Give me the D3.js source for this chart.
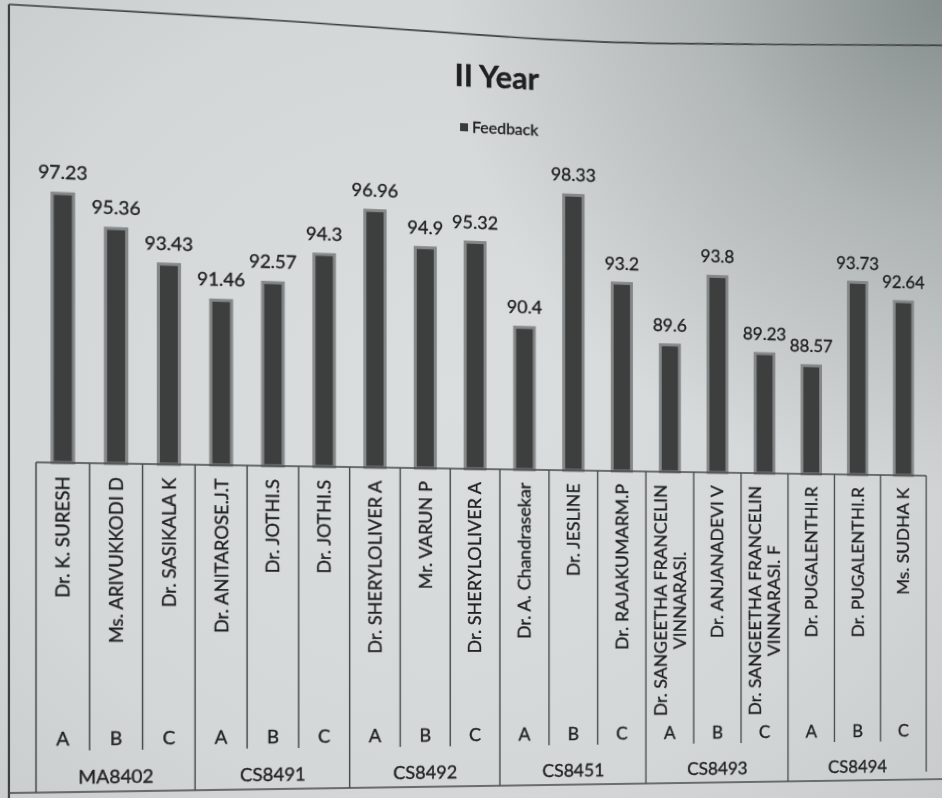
<!DOCTYPE html>
<html>
<head>
<meta charset="utf-8">
<script src="https://cdn.jsdelivr.net/npm/d3@7"></script>
<style>
  html, body { margin: 0; padding: 0; }
  body {
    width: 942px; height: 798px; overflow: hidden;
    background:
      radial-gradient(circle at 100% 0%, rgba(112,122,120,0.75) 0%, rgba(112,122,120,0.35) 18%, rgba(112,122,120,0) 40%),
      radial-gradient(ellipse 85% 90% at 47% 50%, #dbdede 0%, #d4d7d7 55%, #c7cbcb 85%, #b9bebd 100%);
  }
  #chart svg {
    display: block;
    /* the reference is a photo taken at a slight angle */
    transform-origin: 480px 628px;
    transform: perspective(1000px) rotateY(5.4deg);
  }
  text {
    font-family: Lato, "Open Sans", sans-serif;
    fill: #1f2121;
    stroke: #1f2121;
    stroke-width: 0.35px;
  }
</style>
</head>
<body>
<div id="chart"></div>
<script>
(function(){
  var width = 1000,
      height = 798;

  // data
  var courses = ["MA8402", "CS8491", "CS8492", "CS8451", "CS8493", "CS8494"];
  var sections = ["A", "B", "C"];
  var faculty = [
    "Dr. K. SURESH", "Ms. ARIVUKKODI D", "Dr. SASIKALA K",
    "Dr. ANITAROSE.J.T", "Dr. JOTHI.S", "Dr. JOTHI.S",
    "Dr. SHERYLOLIVER A", "Mr. VARUN P", "Dr. SHERYLOLIVER A",
    "Dr. A. Chandrasekar", "Dr. JESLINE", "Dr. RAJAKUMARM.P",
    "Dr. SANGEETHA FRANCELIN|VINNARASI.", "Dr. ANJANADEVI V", "Dr. SANGEETHA FRANCELIN|VINNARASI. F",
    "Dr. PUGALENTHI.R", "Dr. PUGALENTHI.R", "Ms. SUDHA K"
  ];
  var feedback = [
    97.23, 95.36, 93.43,
    91.46, 92.57, 94.3,
    96.96, 94.9, 95.32,
    90.4, 98.33, 93.2,
    89.6, 93.8, 89.23,
    88.57, 93.73, 92.64
  ];

  var rows = feedback.map(function(v, i) {
    return {
      i: i,
      value: v,
      name: faculty[i].split("|"),
      section: sections[i % 3],
      course: courses[Math.floor(i / 3)]
    };
  });

  var svg = d3.select("#chart")
    .append("svg")
    .attr("width", width)
    .attr("height", height);

  var tableLeft = 52, tableRight = 948,
      baseY = 469, nameBottom = 746, tableBottom = 786;

  // x for the bars, column scale for the table cells
  var x = d3.scaleBand()
    .domain(d3.range(rows.length))
    .range([tableLeft, tableRight])
    .paddingInner(0.6)
    .paddingOuter(0.3);

  var col = d3.scaleBand()
    .domain(d3.range(rows.length))
    .range([tableLeft, tableRight]);

  var y = d3.scaleLinear()
    .domain([82, 100])
    .range([baseY, 163]);

  // chart area border (paper edge of the printout)
  var frame = svg.append("g").attr("fill", "none").attr("stroke", "#3c3f3f");
  frame.append("path")
    .attr("stroke-width", 1.6)
    .attr("d", d3.line().curve(d3.curveBasis)([[27, 31], [300, 31], [540, 37], [660, 34], [800, 27], [1000, 17]]));
  frame.append("line")
    .attr("stroke-width", 2)
    .attr("x1", 27).attr("x2", 27)
    .attr("y1", 31).attr("y2", 820);

  // title + legend
  svg.append("text")
    .attr("x", 497)
    .attr("y", 87)
    .attr("text-anchor", "middle")
    .style("font-size", "31px")
    .style("font-weight", "bold")
    .text("II Year");

  var legend = svg.append("g").attr("transform", "translate(460,124)");
  legend.append("rect")
    .attr("width", 8).attr("height", 8)
    .attr("fill", "#3a3c3c");
  legend.append("text")
    .attr("x", 12).attr("y", 9)
    .style("font-size", "16px")
    .text("Feedback");

  // bars
  svg.selectAll(".bar")
    .data(rows)
    .enter().append("rect")
    .attr("class", "bar")
    .attr("x", function(d) { return x(d.i) })
    .attr("width", x.bandwidth())
    .attr("y", function(d) { return y(d.value) })
    .attr("height", function(d) { return baseY - y(d.value) })
    .attr("fill", "#3d3f3f")
    .attr("stroke", "#858888")
    .attr("stroke-width", 3);

  // value labels
  svg.selectAll(".val")
    .data(rows)
    .enter().append("text")
    .attr("class", "val")
    .attr("x", function(d) { return x(d.i) + x.bandwidth() / 2 })
    .attr("y", function(d) { return y(d.value) - 14 })
    .attr("text-anchor", "middle")
    .style("font-size", "18px")
    .text(function(d) { return d.value });

  // table under the axis
  var table = svg.append("g").attr("stroke", "#474a4a").attr("stroke-width", 1.4);
  table.append("line")
    .attr("x1", tableLeft).attr("x2", tableRight)
    .attr("y1", baseY).attr("y2", baseY);
  table.append("line")
    .attr("x1", 27).attr("x2", 1000)
    .attr("y1", tableBottom).attr("y2", tableBottom);
  table.selectAll(".sep")
    .data(d3.range(rows.length + 1))
    .enter().append("line")
    .attr("x1", function(i) { return i < rows.length ? col(i) : tableRight })
    .attr("x2", function(i) { return i < rows.length ? col(i) : tableRight })
    .attr("y1", baseY)
    .attr("y2", function(i) {
      if (i === rows.length) return tableBottom - 8;
      return i % 3 === 0 ? tableBottom : nameBottom;
    });

  // faculty names, rotated, lines centred on each other, block pushed to the top
  var names = svg.selectAll(".name")
    .data(rows)
    .enter().append("g")
    .attr("class", "name");

  names.each(function(d) {
    var g = d3.select(this);
    var lines = g.selectAll("text")
      .data(d.name)
      .enter().append("text")
      .attr("text-anchor", "middle")
      .attr("x", 0)
      .attr("y", function(t, k) { return (k - (d.name.length - 1) / 2) * 20 })
      .attr("dy", "0.35em")
      .style("font-size", "18px")
      .text(function(t) { return t });
    var maxLen = d3.max(lines.nodes(), function(n) { return n.getComputedTextLength() });
    g.attr("transform", "translate(" + (col(d.i) + col.bandwidth() / 2) + "," + (482 + maxLen / 2) + ") rotate(-90)");
  });

  // A / B / C
  svg.selectAll(".sec")
    .data(rows)
    .enter().append("text")
    .attr("class", "sec")
    .attr("x", function(d) { return col(d.i) + col.bandwidth() / 2 })
    .attr("y", 735)
    .attr("dy", "0.35em")
    .attr("text-anchor", "middle")
    .style("font-size", "18px")
    .text(function(d) { return d.section });

  // course codes
  svg.selectAll(".course")
    .data(courses)
    .enter().append("text")
    .attr("class", "course")
    .attr("x", function(c, k) { return col(k * 3) + col.bandwidth() * 1.5 })
    .attr("y", 772)
    .attr("dy", "0.35em")
    .attr("text-anchor", "middle")
    .style("font-size", "18px")
    .text(function(c) { return c });
})();
</script>
</body>
</html>
